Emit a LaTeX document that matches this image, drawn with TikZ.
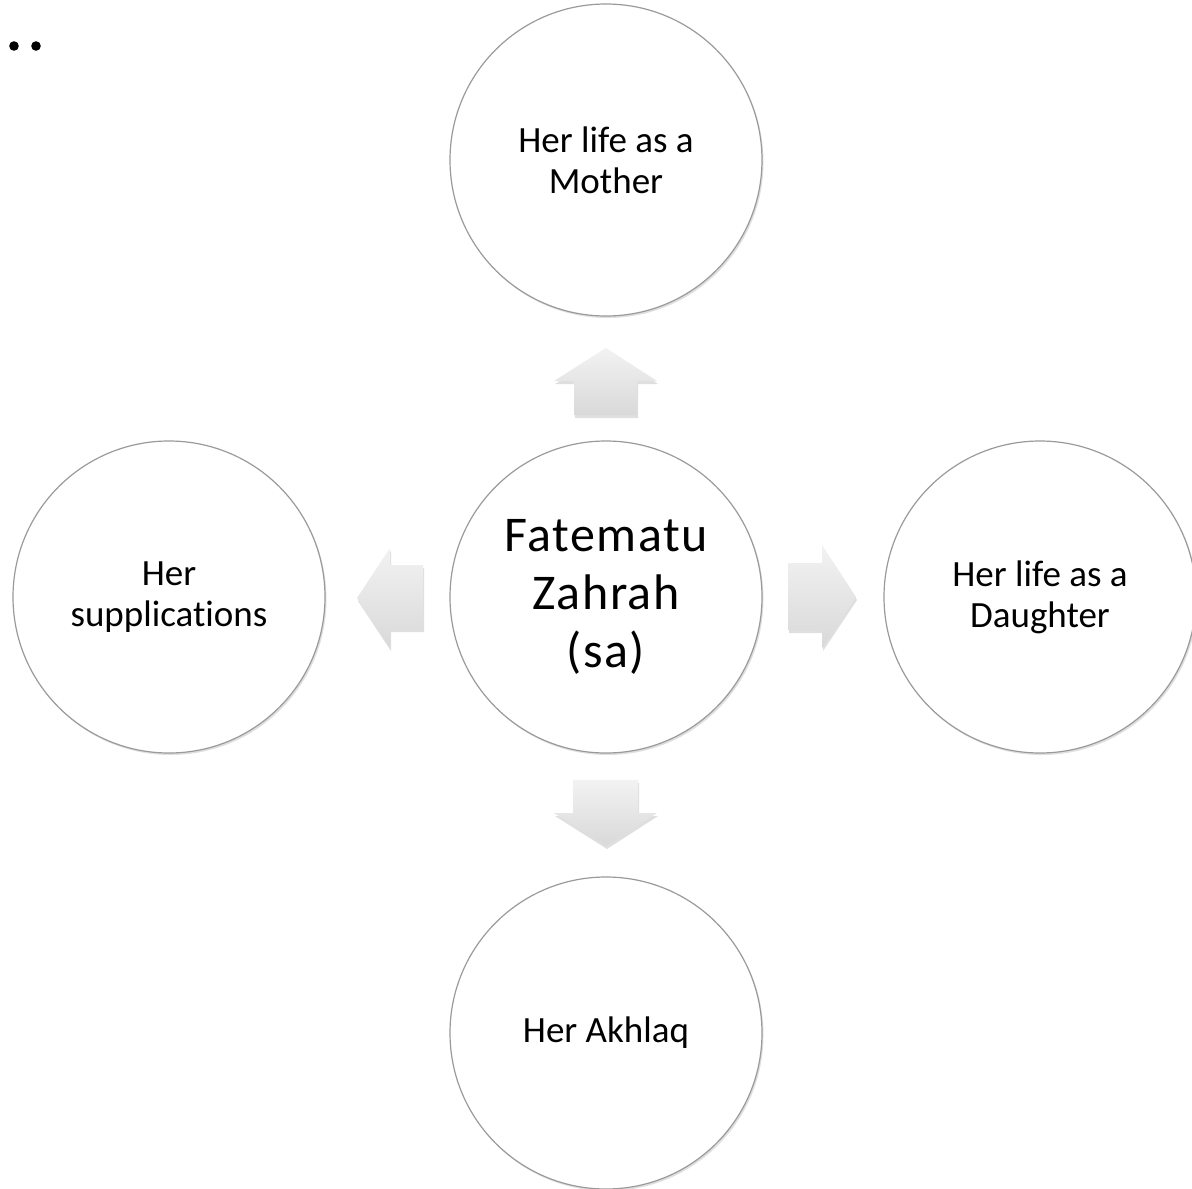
\documentclass[tikz,border=0pt]{standalone}
\usepackage{fontspec}
\setmainfont{Carlito}[Ligatures=NoCommon]
\newfontfamily\hubfont{Carlito}[Ligatures=NoCommon,LetterSpace=3]
\usetikzlibrary{shadows,shadings}
\definecolor{rim}{HTML}{9A9A9A}
\tikzset{
  bubble/.style={circle, draw=rim, line width=1.2pt, fill=white, minimum size=312pt, inner sep=0pt,
    align=center, font=\fontsize{37}{41}\selectfont,
    drop shadow={shadow xshift=1.5pt, shadow yshift=-2pt, opacity=0.25}},
  hub/.style={bubble, font=\hubfont\fontsize{50}{58}\selectfont},
  blockarrow/.style={top color=black!5, bottom color=black!15, draw=none,
    drop shadow={shadow xshift=1pt, shadow yshift=-3pt, opacity=0.25}}
}
\begin{document}
\begin{tikzpicture}[x=1pt,y=-1pt]
\useasboundingbox (0,0) rectangle (1192,1189);
\fill[white] (0,0) rectangle (1192,1189);
% dots
\fill (14,46) circle (4.8);
\fill (36,46) circle (4.8);
% circles
\node[hub] (c) at (606,597) {Fatematu\\Zahrah\\(sa)};
\node[bubble] (t) at (606,160) {Her life as a\\Mother};
\node[bubble] (b) at (606,1033) {Her Akhlaq};
\node[bubble] (l) at (169,597) {Her\\supplications};
\node[bubble] (r) at (1040,597) {Her life as a\\Daughter};
% block arrows
\path[blockarrow] (606,348) -- (657,381) -- (637,381) -- (637,415) -- (574,415) -- (574,381) -- (554,381) -- cycle;
\path[blockarrow] (606,846) -- (657,813) -- (638,813) -- (638,780) -- (573,780) -- (573,813) -- (554,813) -- cycle;
\path[blockarrow] (357,598) -- (390,548) -- (390,565) -- (423,565) -- (423,629) -- (390,629) -- (390,648) -- cycle;
\path[blockarrow] (856,597) -- (822,545) -- (822,563) -- (788,563) -- (788,630) -- (822,630) -- (822,648) -- cycle;
\end{tikzpicture}
\end{document}
